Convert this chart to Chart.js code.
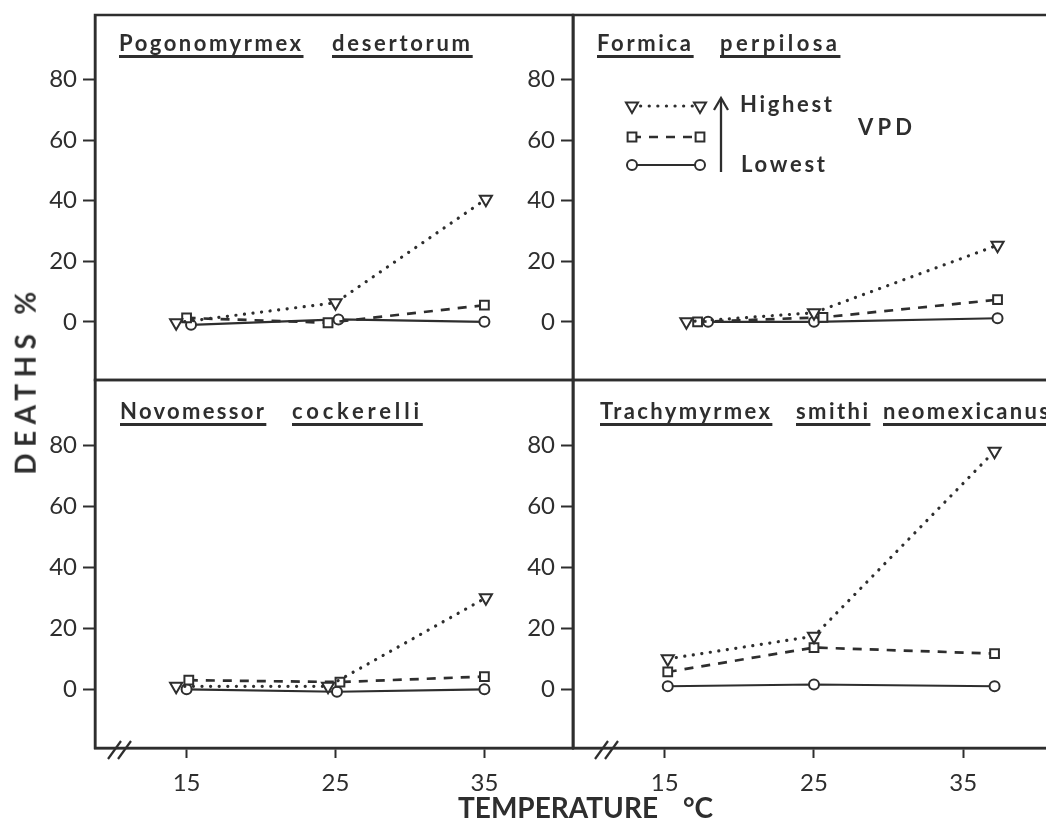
<!DOCTYPE html>
<html><head><meta charset="utf-8">
<script src="https://cdn.jsdelivr.net/npm/chart.js@4.4.1/dist/chart.umd.min.js"></script>
<style>
html,body{margin:0;padding:0;background:#fff;width:1046px;height:828px;overflow:hidden;position:relative}
canvas{position:absolute}
.t{position:absolute;font-family:Lato,'Open Sans',sans-serif;font-weight:700;color:#2e2e2e;white-space:nowrap;line-height:1}
.u{text-decoration:underline;text-decoration-thickness:2.5px;text-underline-offset:4px;text-decoration-skip-ink:none}
</style></head><body>
<canvas id="c_tl"></canvas><canvas id="c_tr"></canvas><canvas id="c_bl"></canvas><canvas id="c_br"></canvas>
<script>
// ---------- data ----------
const temperatures = [15, 25, 35];          // x tick labels (°C)
const deathTicks = [0, 20, 40, 60, 80];      // y tick labels (%)
const vpdLabels = ['Highest', 'Middle', 'Lowest'];
const speciesTL = ['Pogonomyrmex', 'desertorum'];
const speciesTR = ['Formica', 'perpilosa'];
const speciesBL = ['Novomessor', 'cockerelli'];
const speciesBR = ['Trachymyrmex', 'smithi', 'neomexicanus'];

// Pogonomyrmex desertorum: plotted temperature and deaths %
const pogoHighT = [14.3, 25, 35.1], pogoHigh = [-0.3, 6.3, 40.5];
const pogoMidT  = [15, 24.5, 35],   pogoMid  = [1.3, -0.3, 5.5];
const pogoLowT  = [15.3, 25.2, 35], pogoLow  = [-1, 0.8, 0];
// Formica perpilosa
const formHighT = [16.45, 25, 37.3], formHigh = [0, 3, 25.3];
const formMidT  = [17.2, 25.6, 37.3], formMid = [0, 1.5, 7.3];
const formLowT  = [17.9, 25, 37.3],  formLow  = [0, 0, 1.2];
// Novomessor cockerelli
const novoHighT = [14.3, 24.5, 35.1], novoHigh = [1, 1, 30];
const novoMidT  = [15.15, 25.3, 35],  novoMid  = [3, 2.4, 4.2];
const novoLowT  = [15, 25.1, 35],     novoLow  = [0, -0.8, 0];
// Trachymyrmex smithi neomexicanus
const trachHighT = [15.2, 25, 37.1], trachHigh = [10, 17.4, 78];
const trachMidT  = [15.2, 25, 37.1], trachMid  = [5.7, 13.7, 11.7];
const trachLowT  = [15.2, 25, 37.1], trachLow  = [1, 1.6, 1];

// ---------- styling / layout ----------
const INK = '#2e2e2e';
const X_MIN = 8.85, X_MAX = 40.95, Y_MIN = -19.2, Y_MAX = 101.3;
const AXW = 60, AXH = 50, PAD = 26;
const seriesStyles = [
  {pointStyle:'triangle', rotation:180, radius:7, dash:[0.1, 8.5], width:3.2, cap:'round'},
  {pointStyle:'rect', rotation:0, radius:6.2, dash:[9, 8], width:2.7, cap:'butt'},
  {pointStyle:'circle', rotation:0, radius:5, dash:[], width:2.1, cap:'butt'}
];

function markPoint(ctx, st, x, y){
  ctx.save();
  ctx.fillStyle = '#fff'; ctx.strokeStyle = INK; ctx.lineWidth = 2; ctx.setLineDash([]);
  Chart.helpers.drawPoint(ctx, {pointStyle: st.pointStyle, radius: st.radius, rotation: st.rotation, borderWidth: 2}, x, y);
  ctx.restore();
}

const framePlugin = {
  id: 'frame',
  afterDraw(chart, args, opts){
    const {ctx, chartArea: a} = chart;
    ctx.save();
    ctx.strokeStyle = INK; ctx.lineWidth = 2.5; ctx.setLineDash([]);
    ctx.strokeRect(a.left, a.top, a.right - a.left, a.bottom - a.top);
    if (opts.brk != null) {
      ctx.lineWidth = 2.2;
      for (const dx of [0, 10]) {
        const x0 = a.left + opts.brk + dx;
        ctx.beginPath(); ctx.moveTo(x0, a.bottom + 11); ctx.lineTo(x0 + 13, a.bottom - 7); ctx.stroke();
      }
    }
    ctx.restore();
  }
};

const legendPlugin = {
  id: 'vpdLegend',
  afterDraw(chart){
    const ctx = chart.ctx;
    const ox = chart.canvas.offsetLeft, oy = chart.canvas.offsetTop;
    const rowsY = [106, 137, 165];
    seriesStyles.forEach((st, i) => {
      const y = rowsY[i] - oy, x1 = 632 - ox, x2 = 700 - ox;
      ctx.save();
      ctx.strokeStyle = INK; ctx.lineWidth = st.width; ctx.setLineDash(st.dash); ctx.lineCap = st.cap;
      ctx.beginPath(); ctx.moveTo(x1, y); ctx.lineTo(x2, y); ctx.stroke();
      ctx.restore();
      markPoint(ctx, st, x1, y); markPoint(ctx, st, x2, y);
    });
    const ax = 721 - ox;
    ctx.save();
    ctx.strokeStyle = INK; ctx.lineWidth = 2.3; ctx.setLineDash([]);
    ctx.beginPath(); ctx.moveTo(ax, 172 - oy); ctx.lineTo(ax, 99 - oy); ctx.stroke();
    ctx.beginPath(); ctx.moveTo(ax - 7, 110 - oy); ctx.lineTo(ax, 98 - oy); ctx.lineTo(ax + 7, 110 - oy); ctx.stroke();
    ctx.restore();
  }
};

function makePanel(id, area, showX, series, brk, extraPlugins){
  const [L, T, R, B] = area;
  const cv = document.getElementById(id);
  const w = PAD + AXW + (R - L) + PAD;
  const h = PAD + (B - T) + (showX ? AXH : 0) + PAD;
  cv.width = w; cv.height = h;
  cv.style.left = (L - AXW - PAD) + 'px'; cv.style.top = (T - PAD) + 'px';
  cv.style.width = w + 'px'; cv.style.height = h + 'px';
  const datasets = series.map((s, i) => {
    const st = seriesStyles[i];
    return {
      label: vpdLabels[i],
      data: s[0].map((t, j) => ({x: t, y: s[1][j]})),
      borderColor: INK, backgroundColor: '#fff',
      borderWidth: st.width, borderDash: st.dash, borderCapStyle: st.cap,
      pointStyle: st.pointStyle, pointRotation: st.rotation, pointRadius: st.radius,
      pointBackgroundColor: '#fff', pointBorderColor: INK, pointBorderWidth: 2,
      tension: 0, fill: false, clip: false
    };
  });
  const tickFont = {family: 'Lato', size: 24, weight: '400'};
  return new Chart(cv, {
    type: 'line',
    data: {datasets},
    options: {
      responsive: false, animation: false, devicePixelRatio: 1,
      layout: {padding: {left: PAD, right: PAD, top: PAD, bottom: PAD}},
      plugins: {legend: {display: false}, tooltip: {enabled: false}, frame: {brk}},
      scales: {
        x: {
          type: 'linear', min: X_MIN, max: X_MAX, display: showX,
          afterFit: s => { s.height = showX ? AXH : 0; },
          afterBuildTicks: s => { s.ticks = temperatures.map(v => ({value: v})); },
          grid: {display: true, drawOnChartArea: false, drawTicks: true, tickLength: 10, tickWidth: 2, tickColor: INK},
          border: {display: true, width: 2.5, color: INK},
          ticks: {color: INK, font: tickFont, padding: 11, maxRotation: 0, autoSkip: false, callback: v => String(v)}
        },
        y: {
          type: 'linear', min: Y_MIN, max: Y_MAX,
          afterFit: s => { s.width = AXW; },
          afterBuildTicks: s => { s.ticks = deathTicks.map(v => ({value: v})); },
          grid: {display: true, drawOnChartArea: false, drawTicks: true, tickLength: 12, tickWidth: 2, tickColor: INK},
          border: {display: true, width: 2.5, color: INK},
          ticks: {color: INK, font: tickFont, padding: 6, autoSkip: false, callback: v => String(v)}
        }
      }
    },
    plugins: [framePlugin].concat(extraPlugins || [])
  });
}

makePanel('c_tl', [95, 15, 573, 380], false,
  [[pogoHighT, pogoHigh], [pogoMidT, pogoMid], [pogoLowT, pogoLow]], null);
makePanel('c_tr', [573, 15, 1052, 380], false,
  [[formHighT, formHigh], [formMidT, formMid], [formLowT, formLow]], null, [legendPlugin]);
makePanel('c_bl', [95, 380, 573, 748], true,
  [[novoHighT, novoHigh], [novoMidT, novoMid], [novoLowT, novoLow]], 13);
makePanel('c_br', [573, 380, 1052, 748], true,
  [[trachHighT, trachHigh], [trachMidT, trachMid], [trachLowT, trachLow]], 22);

// ---------- text ----------
function word(text, left, baseline, width, size, cls){
  const el = document.createElement('div');
  el.className = 't ' + (cls || '');
  el.textContent = text;
  el.style.fontSize = size + 'px';
  document.body.appendChild(el);
  const w = el.getBoundingClientRect().width;
  if (text.length > 1) el.style.letterSpacing = ((width - w) / (text.length - 1)) + 'px';
  el.style.left = left + 'px';
  el.style.top = (baseline - 0.887 * size) + 'px';
  return el;
}
word(speciesTL[0], 119, 52, 182, 22, 'u');
word(speciesTL[1], 332, 52, 138, 22, 'u');
word(speciesTR[0], 597, 52, 94, 22, 'u');
word(speciesTR[1], 720, 52, 117, 22, 'u');
word(speciesBL[0], 120, 420, 144, 22, 'u');
word(speciesBL[1], 292, 420, 127, 22, 'u');
word(speciesBR[0], 600, 420, 170, 22, 'u');
word(speciesBR[1], 796, 420, 72, 22, 'u');
word(speciesBR[2], 883, 420, 166, 22, 'u');

word('Highest', 740, 113, 92, 22);
word('Lowest', 741, 173, 84, 22);
word('VPD', 858, 136, 54, 22);

word('TEMPERATURE', 458, 818, 200, 28);
word('°C', 683, 818, 30, 28);

const yt = word('DEATHS %', 0, 0, 183, 28);
const r = yt.getBoundingClientRect();
yt.style.left = (25 - r.width / 2) + 'px';
yt.style.top = (380 - r.height / 2) + 'px';
yt.style.transform = 'rotate(-90deg)';
</script>
</body></html>
